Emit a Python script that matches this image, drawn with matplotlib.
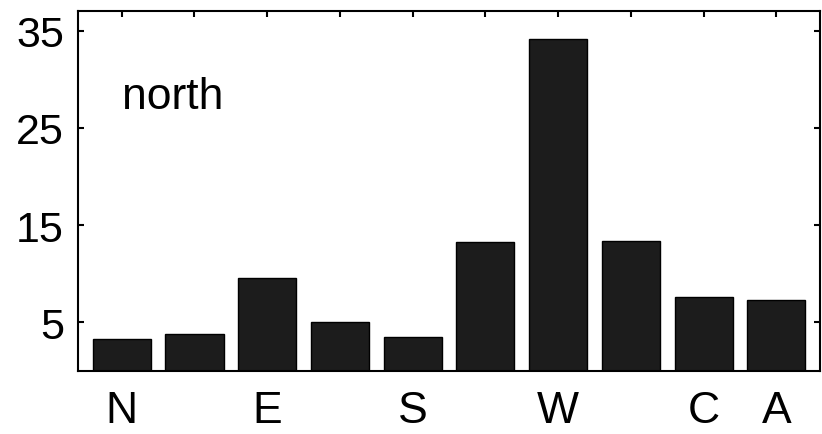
import numpy as np
import matplotlib
matplotlib.use("Agg")
import matplotlib.pyplot as plt

# wind direction counts, one bar per sector
positions = [1, 2, 3, 4, 5, 6, 7, 8, 9, 10]
counts = [3.3, 3.8, 9.5, 5.0, 3.5, 13.3, 34.2, 13.4, 7.6, 7.3]
tick_labels = ['N', '', 'E', '', 'S', '', 'W', '', 'C', 'A']
y_ticks = [5, 15, 25, 35]
panel_label = 'north'

plt.rcParams['font.family'] = ['Liberation Sans', 'DejaVu Sans']

fig = plt.figure(figsize=(8.22, 4.35), dpi=100)
ax = fig.add_axes([0.0949, 0.1455, 0.9027, 0.8262])

ax.bar(positions, counts, width=0.8, color='#1c1c1c', edgecolor='black',
       linewidth=1.0, zorder=2)

ax.set_xlim(0.4, 10.6)
ax.set_ylim(0, 37)
ax.set_xticks(positions)
ax.set_xticklabels(tick_labels)
ax.set_yticks(y_ticks)

ax.tick_params(axis='both', direction='in', length=4.5, width=1.5,
               top=True, right=True, colors='black')
ax.tick_params(axis='y', labelsize=31, pad=10)
ax.tick_params(axis='x', labelsize=32, pad=14)
for side in ax.spines.values():
    side.set_linewidth(1.5)

ax.text(1.0, 27, panel_label, fontsize=32, va='baseline', ha='left')

fig.savefig('out.png', dpi=100)
